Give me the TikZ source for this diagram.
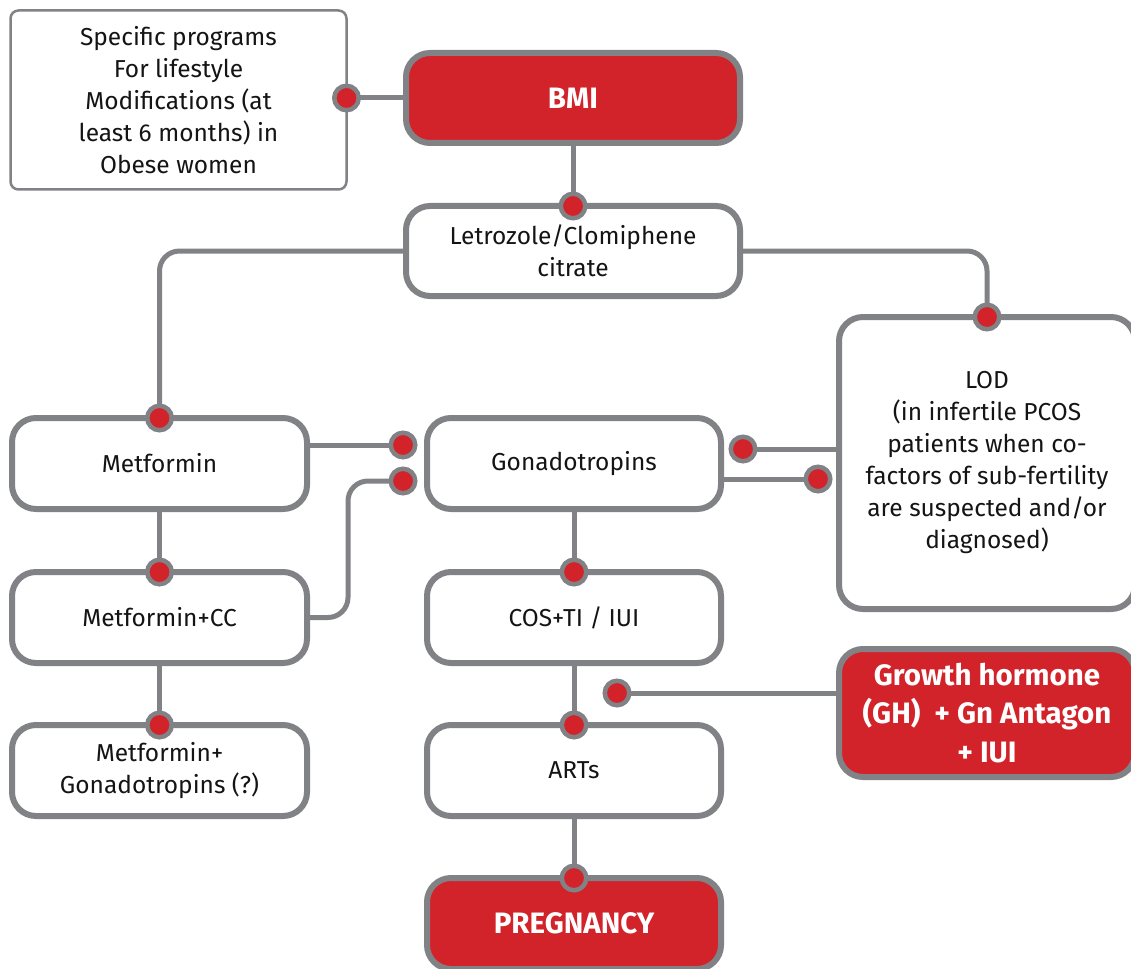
\documentclass[tikz,border=0pt]{standalone}
\usepackage{fontspec}
\setmainfont{Fira Sans}
\usetikzlibrary{backgrounds}
\definecolor{boxred}{HTML}{D2232A}
\definecolor{linegray}{HTML}{818285}
\definecolor{txt}{HTML}{141414}

\tikzset{
  stepbox/.style={draw=linegray, line width=6pt, rounded corners=24pt, fill=white,
    align=center, text=txt, font=\fontsize{24.5}{32}\selectfont, inner sep=0pt,
    outer sep=0pt, minimum width=294pt, minimum height=91pt},
  redbox/.style={stepbox, fill=boxred, text=white,
    font=\fontsize{29.5}{38.5}\selectfont\bfseries},
  notebox/.style={draw=linegray, line width=2.5pt, rounded corners=8pt, fill=white,
    align=center, text=txt, font=\fontsize{24.5}{32}\selectfont, inner sep=0pt,
    outer sep=0pt, minimum width=336pt, minimum height=179pt},
  conn/.style={draw=linegray, line width=5pt, rounded corners=20pt},
  dot/.style={circle, draw=linegray, fill=boxred, line width=4.5pt,
    minimum size=24.5pt, inner sep=0pt, outer sep=0pt},
}

\begin{document}
\begin{tikzpicture}[x=1pt, y=-1pt]
\useasboundingbox (0,0) rectangle (1131,968);
\clip (0,0) rectangle (1131,968);

% boxes
\node[notebox] (life) at (178.5,100) {Specific programs\\For lifestyle\\Modifications (at\\least 6 months) in\\Obese women};
\node[redbox, minimum width=334pt, minimum height=90pt] (bmi) at (573,98) {BMI};
\node[stepbox, minimum width=334pt, minimum height=90pt] (letro) at (573,251) {Letrozole/Clomiphene\\citrate};
\node[stepbox, minimum width=295pt] (met) at (159.5,463.5) {Metformin};
\node[stepbox] (gon) at (574,463.5) {Gonadotropins};
\node[stepbox, minimum width=295pt] (metcc) at (159.5,617.5) {Metformin+CC};
\node[stepbox] (cos) at (574,617.5) {COS+TI / IUI};
\node[stepbox, minimum width=295pt] (metgon) at (159.5,770.5) {Metformin+\\Gonadotropins (?)};
\node[stepbox] (art) at (574,770.5) {ARTs};
\node[redbox] (preg) at (574,923.5) {PREGNANCY};
\node[stepbox, minimum width=296pt, minimum height=292pt] (lod) at (987,463) {LOD\\(in infertile PCOS\\patients when co-\\factors of sub-fertility\\are suspected and/or\\diagnosed)};
\node[redbox, minimum width=296pt, minimum height=128pt] (gh) at (987,713) {Growth hormone\\(GH)\ \ + Gn Antagon\\+ IUI};

% connection dots
\node[dot] (d0) at (life.east |- 0,98) {};
\node[dot] (d1) at (letro.north) {};
\node[dot] (d2) at (met.north) {};
\node[dot] (d3) at (lod.north) {};
\node[dot] (d4) at (403,445) {};
\node[dot] (d5) at (403,481) {};
\node[dot] (d6) at (743,449) {};
\node[dot] (d7) at (818,479) {};
\node[dot] (d8) at (metcc.north) {};
\node[dot] (d9) at (metgon.north) {};
\node[dot] (d10) at (cos.north) {};
\node[dot] (d11) at (art.north) {};
\node[dot] (d12) at (preg.north) {};
\node[dot] (d13) at (617,693) {};
\coordinate (bend) at (348,481);

% connectors, drawn beneath the boxes and dots
\begin{scope}[on background layer]
  \draw[conn] (d0) -- (d0 -| bmi.west);
  \draw[conn] (bmi.south) -- (d1);
  \draw[conn] (letro.west) -| (d2);
  \draw[conn] (letro.east) -| (d3);
  \draw[conn] (d4 -| met.east) -- (d4);
  \draw[conn] (metcc.east) -| (bend) -- (d5);
  \draw[conn] (d6) -- (d6 -| lod.west);
  \draw[conn] (d7 -| gon.east) -- (d7);
  \draw[conn] (met.south) -- (d8);
  \draw[conn] (metcc.south) -- (d9);
  \draw[conn] (gon.south) -- (d10);
  \draw[conn] (cos.south) -- (d11);
  \draw[conn] (art.south) -- (d12);
  \draw[conn] (d13) -- (d13 -| gh.west);
\end{scope}
\end{tikzpicture}
\end{document}
